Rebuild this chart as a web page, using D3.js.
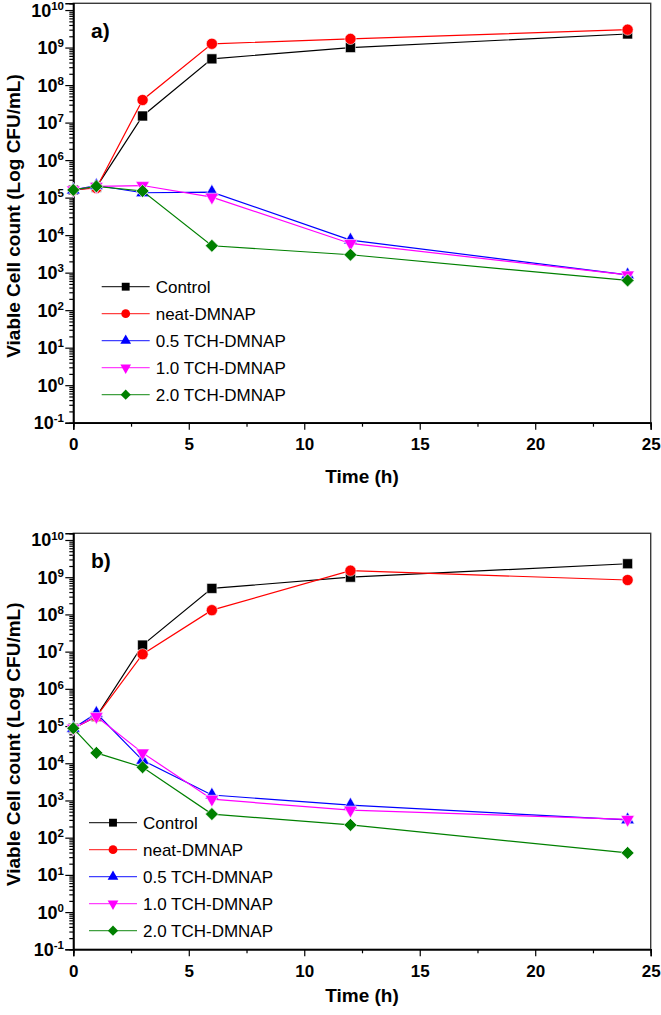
<!DOCTYPE html>
<html>
<head>
<meta charset="utf-8">
<script src="https://cdn.jsdelivr.net/npm/d3@7"></script>
<style>
  html, body { margin: 0; padding: 0; background: #fff; }
  svg { display: block; font-family: Arial, "Liberation Sans", sans-serif; }
</style>
</head>
<body>
<div id="chart"></div>
<script>
// time points (h)
const timesH = [0, 1, 3, 6, 12, 24];
const seriesNames = ["Control", "neat-DMNAP", "0.5 TCH-DMNAP", "1.0 TCH-DMNAP", "2.0 TCH-DMNAP"];
const seriesColors = ["#000000", "#ff0000", "#0000ff", "#ff00ff", "#008000"];
const xTicks = [0, 5, 10, 15, 20, 25];
const yExponents = [-1, 0, 1, 2, 3, 4, 5, 6, 7, 8, 9, 10];

// panel a) viable counts (CFU/mL)
const aControl = [1.6e5, 1.9e5, 1.5e7, 5.0e8, 1.0e9, 2.3e9];
const aNeat    = [1.6e5, 1.8e5, 4.0e7, 1.26e9, 1.7e9, 3.0e9];
const aTch05   = [1.6e5, 2.1e5, 1.35e5, 1.4e5, 7.4e3, 8.7e2];
const aTch10   = [1.6e5, 2.0e5, 2.1e5, 1.03e5, 6.0e3, 8.7e2];
const aTch20   = [1.6e5, 2.0e5, 1.5e5, 5.2e3, 3.0e3, 6.2e2];

// panel b)
const bControl = [8.7e4, 1.8e5, 1.5e7, 5.0e8, 1.0e9, 2.3e9];
const bNeat    = [8.7e4, 1.8e5, 8.5e6, 1.3e8, 1.5e9, 8.4e8];
const bTch05   = [8.7e4, 2.2e5, 1.2e4, 1.4e3, 7.5e2, 3.0e2];
const bTch10   = [8.7e4, 1.8e5, 1.9e4, 1.08e3, 5.5e2, 3.1e2];
const bTch20   = [8.7e4, 1.9e4, 7.8e3, 4.3e2, 2.2e2, 3.9e1];

const W = 661, H = 1015;
const svg = d3.select("#chart").append("svg").attr("width", W).attr("height", H);

// symbol generators: square, circle, up triangle, down triangle, diamond
function markerPath(i, scale) {
  const s = scale || 1;
  if (i === 0) return d3.symbol(d3.symbolSquare, 100 * s)();
  if (i === 1) return d3.symbol(d3.symbolCircle, 98 * s)();
  if (i === 2 || i === 3) return d3.symbol(d3.symbolTriangle, 80 * s)();
  return d3.symbol(d3.symbolSquare, 84 * s)();
}
function markerRotate(i) {
  if (i === 3) return " rotate(180)";
  if (i === 4) return " rotate(45)";
  return "";
}

function drawPanel(cfg) {
  const x = d3.scaleLinear().domain([0, 25]).range([73.3, 650.7]);
  const y = d3.scaleLog().domain([0.1, Math.pow(10, 10.18)]).range([cfg.bottom, cfg.top]);
  const g = svg.append("g");

  // frame
  g.append("rect")
    .attr("x", x(0)).attr("y", cfg.top)
    .attr("width", x(25) - x(0)).attr("height", cfg.bottom - cfg.top)
    .attr("fill", "none").attr("stroke", "#3a3a3a").attr("stroke-width", 1.4);

  // minor y ticks
  const minors = [];
  for (let e = -1; e <= 10; e++) {
    for (let m = 2; m <= 9; m++) {
      const v = m * Math.pow(10, e);
      if (v <= y.domain()[1]) minors.push(v);
    }
  }
  const yMinor = g.append("g").attr("transform", `translate(${x(0)},0)`)
    .call(d3.axisLeft(y).tickValues(minors).tickSize(4).tickFormat(""));
  const yMajor = g.append("g").attr("transform", `translate(${x(0)},0)`)
    .call(d3.axisLeft(y).tickValues(yExponents.map(e => Math.pow(10, e))).tickSize(8).tickFormat(""));
  [yMinor, yMajor].forEach(a => {
    a.select(".domain").attr("stroke", "#000").attr("stroke-width", 1.5);
    a.selectAll(".tick line").attr("stroke", "#000").attr("stroke-width", 1.2);
  });

  // y tick labels 10^n
  const lab = g.append("g").selectAll("text").data(yExponents).enter().append("text")
    .attr("x", 64).attr("y", e => y(Math.pow(10, e)) + 6.5)
    .attr("text-anchor", "end")
    .attr("font-weight", "bold").attr("font-size", 18).attr("fill", "#000");
  lab.append("tspan").text("10");
  lab.append("tspan").attr("dy", -6.8).attr("font-size", 11.5).text(e => String(e));

  // x axis
  const xMinor = g.append("g").attr("transform", `translate(0,${cfg.bottom})`)
    .call(d3.axisBottom(x).tickValues([2.5, 7.5, 12.5, 17.5, 22.5]).tickSize(4).tickFormat(""));
  const xMajor = g.append("g").attr("transform", `translate(0,${cfg.bottom})`)
    .call(d3.axisBottom(x).tickValues(xTicks).tickSize(7).tickPadding(8.5).tickFormat(d3.format("d")));
  [xMinor, xMajor].forEach(a => {
    a.select(".domain").attr("stroke", "#000").attr("stroke-width", 1.5);
    a.selectAll(".tick line").attr("stroke", "#000").attr("stroke-width", 1.2);
  });
  xMajor.selectAll(".tick text")
    .attr("font-family", "Arial, 'Liberation Sans', sans-serif")
    .attr("font-weight", "bold").attr("font-size", 17).attr("fill", "#000");

  // axis titles
  g.append("text")
    .attr("x", 362).attr("y", cfg.xTitleY)
    .attr("text-anchor", "middle").attr("font-weight", "bold").attr("font-size", 19)
    .text("Time (h)");
  g.append("text")
    .attr("transform", `translate(20,${(cfg.top + cfg.bottom) / 2 + 3}) rotate(-90)`)
    .attr("text-anchor", "middle").attr("font-weight", "bold").attr("font-size", 19)
    .text("Viable Cell count (Log CFU/mL)");

  // panel label
  g.append("text")
    .attr("x", 91).attr("y", cfg.top + 35)
    .attr("font-weight", "bold").attr("font-size", 21)
    .text(cfg.label);

  // series
  const line = d3.line().x(d => x(d[0])).y(d => y(d[1]));
  cfg.series.forEach((vals, i) => {
    const pts = timesH.map((t, k) => [t, vals[k]]);
    const sg = g.append("g");
    sg.append("path").datum(pts)
      .attr("d", line).attr("fill", "none")
      .attr("stroke", seriesColors[i]).attr("stroke-width", 1.2);
    sg.selectAll("path.m").data(pts).enter().append("path")
      .attr("class", "m")
      .attr("d", markerPath(i))
      .attr("transform", d => `translate(${x(d[0])},${y(d[1])})` + markerRotate(i))
      .attr("fill", seriesColors[i])
      .attr("stroke", "#fff").attr("stroke-width", 0.6);
  });

  // legend
  const lg = g.append("g");
  seriesNames.forEach((name, i) => {
    const ly = cfg.legY + i * 27;
    lg.append("line")
      .attr("x1", cfg.legX).attr("x2", cfg.legX + 48)
      .attr("y1", ly).attr("y2", ly)
      .attr("stroke", seriesColors[i]).attr("stroke-width", 1.2)
      .attr("stroke-opacity", i === 0 ? 0.8 : 0.75);
    lg.append("path")
      .attr("d", markerPath(i, 0.62))
      .attr("transform", `translate(${cfg.legX + 24},${ly})` + markerRotate(i))
      .attr("fill", seriesColors[i]);
    lg.append("text")
      .attr("x", cfg.legX + 54).attr("y", ly + 6)
      .attr("font-size", 17).attr("fill", "#000")
      .text(name);
  });
}

drawPanel({
  label: "a)", top: 3.3, bottom: 422.7, xTitleY: 483,
  legX: 101.7, legY: 286.7,
  series: [aControl, aNeat, aTch05, aTch10, aTch20]
});
drawPanel({
  label: "b)", top: 533.3, bottom: 949.3, xTitleY: 1001.5,
  legX: 89, legY: 822.7,
  series: [bControl, bNeat, bTch05, bTch10, bTch20]
});
</script>
</body>
</html>
